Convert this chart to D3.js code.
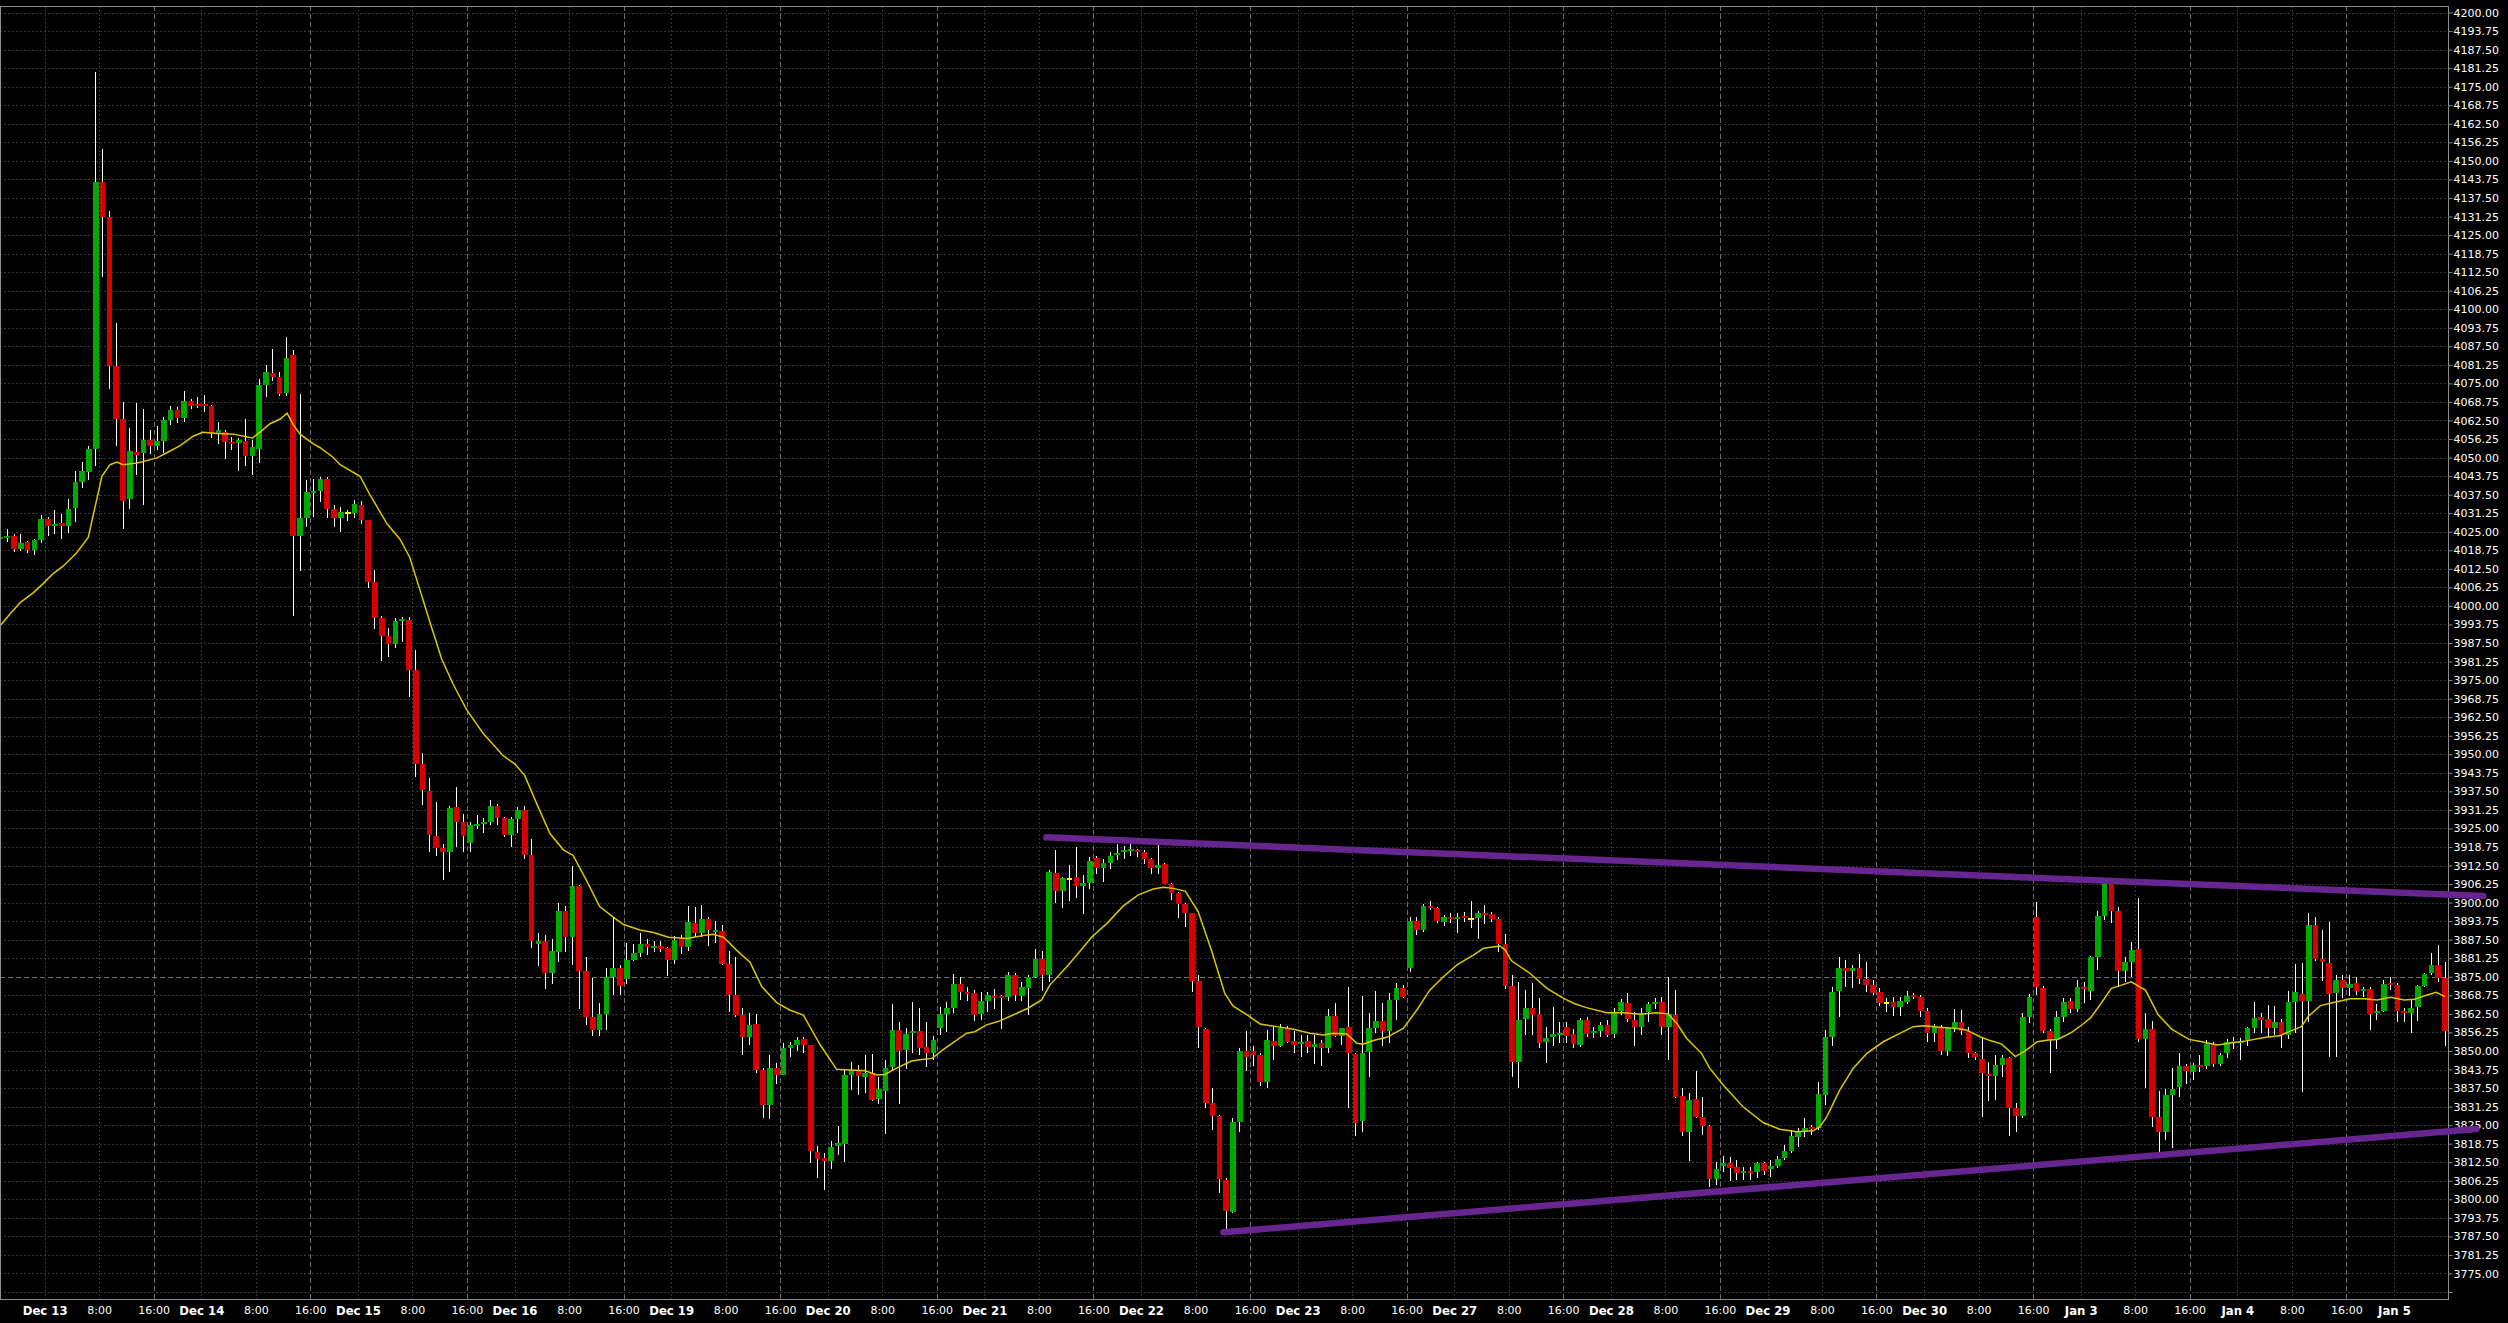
<!DOCTYPE html>
<html><head><meta charset="utf-8">
<script src="https://cdn.jsdelivr.net/npm/d3@7"></script>
<style>
html,body{margin:0;padding:0;background:#000;overflow:hidden}
svg{display:block}
</style></head><body>
<svg id="chart" width="2508" height="1323"></svg>
<script>
// ---------- DATA (hourly candles, index 0 = Dec 12 last session hours) ----------
const opens = [
4022.5,4023,4023.6,4019.3,4021.5,4018.8,4022.1,4029.3,4026.9,4027.8,
4026.9,4033.1,4041.8,4045.3,4053,4143,4131,4081,4063,4036,
4051.8,4051.5,4056,4054,4055.7,4062.7,4065.9,4063.5,4069.2,4068,
4068,4067.4,4058,4058.6,4055.3,4055,4055.5,4050.4,4053,4074.4,
4078.5,4077,4071.6,4084.7,4023.7,4029.5,4037.9,4038.8,4042.7,4032.7,
4029.5,4031.4,4031.4,4034,4029.1,4008.2,3996,3989.7,3987.2,3994.8,
3995.2,3978.5,3946.8,3937.6,3922.3,3918.3,3916.9,3932.1,3927.2,3920.2,
3926,3926.6,3927.2,3932.4,3928.4,3922.9,3928.1,3931.2,3915.9,3886.2,
3886.9,3876.3,3883.5,3897.1,3888.3,3905.7,3876.9,3861.3,3857.1,3862.6,
3874.8,3877.9,3874.2,3880.6,3883,3886.1,3884.6,3885.4,3884.6,3880.6,
3887.7,3885,3893.2,3889.6,3894.4,3890,3890.4,3879.4,3869,3862,
3854.6,3859.1,3843.6,3831.8,3844.2,3842,3851.1,3851.9,3853.9,3852,
3815.9,3814,3813,3818.1,3818.6,3841.9,3843.4,3841.2,3842.5,3833.7,
3836.6,3844.5,3857.1,3850.3,3856,3856.7,3851.2,3849.4,3857.6,3862.5,
3864.6,3872.6,3869.9,3869.4,3862.5,3866.8,3868.6,3868.2,3868.3,3875.6,
3868.6,3871.3,3875,3881,3875.6,3909.9,3904,3908.1,3908.5,3905.7,
3906.5,3915.1,3911.8,3913.5,3916.1,3917,3917.5,3917.7,3917,3914.7,
3911.8,3913,3906.3,3903.3,3899.5,3896.4,3873.6,3857.4,3832.4,3828.2,
3806.5,3795.8,3826.2,3850,3850,3848.6,3839.6,3853.4,3851.7,3857.8,
3853.4,3852.6,3853.4,3851.4,3852.6,3851.1,3861.8,3855.1,3858,3848.9,
3826.4,3849.8,3857.8,3860.1,3856.8,3867.2,3871.1,3878.1,3893.8,3890.8,
3898.9,3898.1,3893.6,3895,3894.5,3895.5,3894.6,3894.9,3896.4,3896,
3894.4,3886,3871.9,3846.4,3860.8,3864.6,3862.5,3853,3854.6,3855.4,
3858.2,3855.7,3852,3860.4,3856,3856.8,3858.8,3855.7,3863.6,3866.1,
3860.4,3858,3863,3865.8,3866.5,3858.2,3862.1,3834.8,3822.8,3833.7,
3827.6,3824.7,3806.8,3811.3,3812.1,3810.8,3808.8,3809.5,3809.3,3812.1,
3810.1,3811.2,3813.8,3816.4,3821.1,3822.8,3824.4,3823.9,3835.2,3854.6,
3870.3,3877.9,3877.1,3877.9,3874.3,3872.2,3869.8,3866.3,3866.5,3864.9,
3866.6,3868.9,3868.3,3863.5,3856,3858,3850.1,3857.6,3859.9,3856.8,
3849.2,3847.3,3842.2,3841.7,3845.3,3847.5,3830.7,3828.2,3861.6,3895.3,
3871.3,3856.7,3854,3861.6,3866.8,3864.1,3871.7,3870.2,3881.8,3895.5,
3906.2,3897.2,3877,3880.1,3884.4,3854,3857.4,3827.6,3822.8,3835.2,
3837.8,3844.9,3843,3845.2,3844.9,3852.3,3845.6,3849.2,3853.4,3852.6,
3853.4,3857.6,3861.3,3860.7,3857.8,3859.9,3855.4,3866.4,3869.2,3867,
3892.4,3881,3879.5,3869.4,3873.9,3871.3,3872.8,3870.2,3870.9,3862.7,
3863.6,3872.8,3872.2,3863.6,3862.7,3864.9,3872,3876.4,3879,3874.7];
const highs = [
4024,4026,4024.3,4024.3,4022,4022.6,4030.8,4030.1,4032.3,4031.1,
4036,4045.6,4048.5,4054,4179.8,4154,4133,4095.3,4068.8,4060,
4068.5,4066.5,4059.2,4060.5,4063.7,4067.5,4067.2,4072.3,4069.7,4070.4,
4071,4067.6,4062,4059.4,4056.8,4056.6,4063,4056,4076.6,4081.1,
4086.5,4078.8,4090.8,4086.3,4071.4,4042.4,4042.7,4043.3,4043.3,4034,
4033.4,4032.3,4035.7,4035.3,4029.1,4012.1,3996.5,3992.5,3995.8,3996.2,
3996.2,3985.1,3950.5,3941.9,3934,3919.6,3932.4,3938.9,3930,3927.2,
3929.4,3928.4,3934.5,3933.3,3928.8,3928.8,3932.1,3932.4,3921.4,3889.6,
3889,3887.7,3900,3898.7,3912.5,3905.8,3881.6,3874.5,3866.3,3877.9,
3895.3,3879.1,3886.5,3885.9,3889.6,3887.7,3887.2,3887.2,3885.2,3888.6,
3889,3899,3898.4,3899.1,3895.1,3893.8,3892.6,3883.7,3881.6,3864.4,
3862.7,3862.5,3844.2,3848.6,3846,3852.6,3853.1,3854.8,3854.8,3852,
3818,3815.5,3819.8,3824.7,3843.6,3846.4,3845.3,3848.6,3849,3841.3,
3847,3865.8,3859.7,3857.6,3866.6,3864.6,3859.7,3855,3864.9,3866.6,
3875.9,3874.8,3871.7,3870.5,3870,3870,3870.8,3869,3876.7,3876.2,
3873.4,3875.6,3884.3,3883.8,3911,3917.7,3908.7,3912.7,3918.6,3909.3,
3915.5,3915.7,3914.6,3917.2,3919.8,3919.1,3919.8,3918,3917.7,3914.9,
3919.4,3913.2,3906.5,3903.7,3899.8,3896.6,3875.6,3857.8,3837.6,3828.4,
3807.1,3827.5,3850.9,3856.8,3851.7,3849.2,3857,3858.2,3859.1,3858.4,
3856.7,3855.4,3855.4,3855.4,3853.7,3864,3866.3,3857.8,3871.7,3849.2,
3868.5,3862.9,3870.2,3866.3,3869.6,3872.8,3872.2,3895.3,3895.3,3899.4,
3900.5,3898.4,3895.8,3896.4,3896.6,3897,3900.5,3897.2,3899.2,3897,
3895,3889.4,3875.6,3873.3,3870.5,3872.8,3867.7,3858.2,3864.9,3859.9,
3859.9,3857.3,3861,3861.5,3858.2,3859.9,3860.4,3864.6,3867.4,3869.4,
3863.2,3864.4,3866.6,3867.7,3868.1,3875,3870.5,3837.4,3835.7,3843.4,
3834.6,3825,3812.7,3814.6,3814.2,3813.3,3810.8,3811,3812.7,3812.7,
3813.3,3814.6,3818.3,3823.4,3823.9,3827.3,3825,3839.6,3857,3871.5,
3881.6,3880.7,3879,3882.7,3880.1,3873.9,3871.1,3867.7,3868.1,3868.3,
3870.3,3869.4,3868.9,3864.4,3859.1,3858.8,3858.2,3864,3863.8,3858.2,
3849.8,3854.3,3846.4,3848.6,3848.6,3848.1,3832.4,3862.7,3869.1,3900.3,
3872,3857.3,3863.5,3868,3867.7,3873.9,3873.3,3882,3897.2,3907.6,
3906.2,3898.6,3881.8,3886.8,3901.5,3862.7,3860.1,3836.6,3837.1,3844.2,
3849.2,3845.6,3845.8,3848.6,3853.7,3853.1,3849.2,3853.9,3854.8,3854.3,
3858.2,3866.4,3862.7,3865.5,3865.2,3860.7,3870.3,3879.2,3879.7,3896.6,
3895,3890.8,3893.6,3875.6,3875.6,3875.6,3875,3871.7,3871.7,3865.8,
3873.9,3874.8,3872.8,3864.4,3867.4,3872.2,3876.4,3882.9,3885.7,3880.1];
const lows = [
4021.5,4021.7,4018.2,4018.4,4017.9,4017.3,4021.1,4023.7,4024.3,4022.4,
4024.7,4028.2,4039.8,4042.4,4047.3,4111,4073,4053.8,4026,4032.7,
4044.1,4034,4051.2,4052.7,4051.4,4061.1,4061.8,4062,4066.3,4066.7,
4065.5,4056.6,4054.7,4049.5,4052.7,4045.6,4047.3,4044.1,4048.2,4070.4,
4075.9,4070.8,4070.8,3996.6,4011.7,4026.7,4030.1,4034.9,4029.5,4026.7,
4025,4028.5,4029.5,4027.6,4005.9,3992.1,3981.5,3982.7,3985.7,3988,
3969.2,3942.2,3932.8,3916.9,3915.6,3907.7,3910.4,3918.7,3916.9,3916.9,
3924.7,3923.3,3926,3926,3922,3918.7,3923.3,3914.7,3884.6,3878.5,
3870.8,3872.6,3880.1,3883.5,3878.9,3864.2,3858.9,3855.2,3855.2,3857.1,
3868.7,3868.7,3872.6,3880.4,3881.6,3882.2,3883.5,3883.2,3875.4,3879.4,
3882.8,3883.8,3888.3,3888.3,3885.5,3886.5,3878.9,3863.2,3861.3,3848.6,
3852,3842.5,3827.3,3827,3838.9,3841.9,3847.9,3850.1,3849.2,3812.3,
3807.1,3803.1,3810.1,3815,3812.7,3836.8,3835.2,3835.7,3833.3,3832.1,
3822,3843.6,3832.1,3843.8,3849.2,3848.6,3844.7,3847,3855.4,3856.4,
3862.7,3867.2,3867,3860.2,3860.4,3863.2,3864,3857.4,3867,3867,
3867,3862.1,3874.5,3870.3,3873.3,3900,3898.3,3900.5,3901.7,3896.2,
3904.6,3909.6,3907,3911.3,3914.4,3914.6,3915.7,3915.3,3913,3909.6,
3909.6,3906.2,3900.9,3894.7,3891.9,3870,3850.9,3830.7,3823.4,3802,
3789.5,3795.5,3822.8,3843.4,3844.9,3838.2,3837.6,3847,3851.4,3852.6,
3849.2,3847.9,3849.2,3845.6,3844.9,3849.2,3854.8,3852,3830.7,3821.3,
3822.8,3841.1,3856,3851.7,3852.8,3860.4,3867.7,3876.5,3889.1,3890.2,
3897.5,3893.2,3892.1,3893,3889.9,3893.6,3891.3,3887.6,3892.8,3893.6,
3883.5,3871,3841.1,3837.4,3855.4,3855.4,3850.9,3845.8,3851.8,3852.8,
3852.8,3850.9,3851.2,3854.8,3854.3,3854.6,3854.6,3854.3,3862.1,3859.9,
3851.8,3855.4,3859.9,3864,3855.4,3847,3834,3821.3,3813,3827.3,
3821.7,3804.3,3804.8,3809.3,3806.3,3806.5,3806.5,3806.5,3807.1,3808.2,
3807.6,3810.4,3813.3,3815.7,3817.5,3821.1,3821.7,3823.4,3831.8,3851.7,
3861.3,3871.5,3871.1,3872.6,3870,3868.9,3865.2,3863.2,3861.8,3861.8,
3865.8,3867.4,3861.5,3853.1,3853.1,3848.6,3848.3,3856.5,3855.4,3847.5,
3847,3827.6,3833.2,3833.5,3841.1,3821.4,3822.8,3827.3,3859.3,3868.9,
3856,3842.7,3850.6,3859.9,3862.7,3863.2,3866,3867.2,3877.3,3894.1,
3893.2,3871.7,3873.3,3875,3853.1,3837.4,3824.5,3816,3820,3817.2,
3834.6,3838.9,3840.2,3843,3843.8,3844.7,3844.9,3847.5,3850.6,3847,
3851.7,3856.2,3856.2,3854.8,3855.4,3850.9,3853.9,3856,3836.3,3859.9,
3880.4,3873.7,3847.9,3848.1,3867.7,3868.5,3868.9,3868.3,3857.1,3860.4,
3863.2,3870.5,3859.9,3859.9,3856.2,3860.1,3871.7,3875.6,3873.3,3851.7];
const closes = [
4023,4023.5,4019.3,4021.1,4018.8,4022.1,4029.3,4026.9,4027.5,4026.9,
4032.6,4041.8,4045.6,4053,4143,4131,4081,4063,4035.3,4052.3,
4051,4056,4053.8,4055.7,4062.7,4065.9,4063.3,4069.2,4067.5,4067.5,
4067.3,4057.9,4059.2,4055.3,4054.7,4056,4050.4,4053.6,4074.4,4078.8,
4077,4071.4,4083.7,4023.7,4029.5,4038.5,4038.6,4042.7,4032.7,4029.5,
4031.8,4031.4,4034.4,4029.1,4008.2,3996,3989.7,3987.2,3994.9,3995.6,
3978.5,3946.8,3938,3922.9,3918.3,3916.9,3931.8,3927.2,3922.4,3926,
3926.6,3927.2,3932.4,3928.4,3922.9,3928.1,3931.2,3915.9,3886.9,3886.9,
3876.3,3883.7,3897.1,3888.3,3905.7,3876.9,3861.3,3857.1,3862.6,3874.8,
3877.9,3872,3880.6,3883,3886.1,3885.2,3885.4,3884.2,3880.6,3887.5,
3885,3893.5,3889.6,3894.4,3890.8,3890.6,3879.4,3869,3862,3854.6,
3858.8,3843.6,3831.8,3844.2,3841.9,3850.9,3851.9,3853.7,3852,3816.4,
3813.6,3813,3817.7,3819,3841.9,3843.4,3841.6,3842.7,3833.5,3837.1,
3844.2,3857.1,3850.1,3855.7,3856.7,3851.1,3849.4,3853.7,3862.5,3864.5,
3872.6,3870,3869.2,3862.1,3866.8,3868.9,3867.9,3867.9,3875.6,3868.9,
3871.7,3875,3881,3875.6,3910.4,3904,3908.4,3908.1,3905.7,3906.7,
3914.1,3911.8,3913.5,3915.7,3916.8,3917.7,3918.2,3917,3914.7,3911.8,
3912.7,3906.3,3903.3,3899.5,3896.4,3873.7,3858,3832.6,3828.2,3806.7,
3796.2,3826.2,3850,3847.9,3848.6,3839.6,3853.7,3851.7,3857.8,3853.1,
3852,3853.1,3851.2,3852.3,3850.9,3861.8,3855.1,3857.6,3849.2,3825.8,
3849.2,3857.6,3860.1,3856.8,3867.2,3871.1,3868.3,3893.8,3890.8,3898.9,
3898.3,3893.8,3895,3894.5,3895.3,3894.9,3894.6,3896.4,3895.7,3894.5,
3886,3871.9,3846.4,3860.4,3864.6,3862.1,3852.8,3854.3,3855.7,3856.2,
3855,3852.3,3860.4,3855.7,3856.7,3858.8,3855.4,3863.2,3866.5,3860.7,
3858,3862.7,3865.8,3866.5,3858.2,3862.4,3834.6,3822.8,3833.5,3827.6,
3824.7,3806.8,3810.2,3812.1,3810.4,3808.8,3809.3,3809,3812.1,3809.6,
3811.2,3813.6,3816.4,3821.3,3822.8,3823.9,3823.7,3835.4,3854.6,3869.8,
3877.9,3877.1,3877.9,3874.3,3872.2,3869.4,3866.3,3866.3,3864.9,3867,
3868.5,3868.3,3863.6,3856,3858.2,3850.1,3857.6,3859.9,3856.8,3849.2,
3848.1,3842.5,3841.7,3845.3,3847.5,3830.7,3828.2,3861.6,3868.3,3871.7,
3856.8,3853.7,3861.6,3866.4,3864.1,3871.7,3870.9,3881.8,3895.5,3906.2,
3897.2,3877,3880.1,3884,3854,3857.4,3827.6,3822.8,3835.2,3837.1,
3844.9,3843.3,3845.3,3844.5,3852.3,3845.6,3848.6,3853.1,3852.6,3853.4,
3857.6,3861,3860.4,3857.8,3859.9,3855.4,3866.4,3869.8,3867,3892.4,
3880.9,3880.1,3869.2,3873.9,3871.3,3872.6,3870.2,3870.9,3862.4,3863.6,
3872.6,3872.2,3863.6,3862.7,3864.4,3872,3876,3879,3874.5,3856.8];

// moving average: candle position -> value
const maAt = [0,1.4,2.9,4.8,6.3,7.7,9.2,11.2,12.9,13.9,14.9,16.1,17.1,18.0,20.1,23.0,24.5,26.4,28.3,29.7,
31.8,34.2,37.0,38.1,39.6,41.1,42.1,43.0,44.0,45.9,46.9,48.8,49.9,52.8,54.3,56.8,58.7,
60.1,61.6,63.1,64.8,66.5,68.5,70.9,73.8,75.6,77.0,78.8,80.7,82.7,84.1,86.1,88.0,90.0,91.5,93.9,95.9,
98.1,100.8,103.2,104.7,106.2,108.1,110.1,
111.8,114.0,115.9,117.9,120.4,122.8,124.8,127.0,128.7,129.9,131.6,133.8,135.0,136.8,138.7,141.9,143.1,144.8,146.5,
148.7,150.9,152.9,154.1,156.6,158.5,160.3,162.5,164.9,167.1,169.3,170.8,172.2,174.0,175.9,177.9,179.8,181.0,183.3,185.0,
187.4,189.9,192.3,194.3,195.7,197.7,199.2,200.1,201.6,203.6,206.0,208.0,209.9,211.9,213.9,216.3,217.8,220.2,
221.0,221.9,224.6,227.1,229.5,231.0,232.9,235.9,238.3,240.8,243.2,244.9,246.2,247.6,249.8,251.0,253.0,255.9,258.9,261.3,
263.8,266.2,267.2,268.2,270.1,272.1,274.1,276.5,279.0,280.9,282.4,284.8,287.3,288.7,290.7,292.2,
293.9,295.9,297.4,299.1,300.8,302.1,304.1,305.8,307.0,308.5,310.0,311.5,312.9,315.0,316.9,318.9,321.4,323.3,325.6,327.3,
329.8,332.7,334.7,336.7,337.9,338.9,340.7,342.6,345.1,347.1,349.0,351.0,353.0,354.5,356.0,357.7,359.0];
const maValues = [3993.4,3997.3,4001.1,4004.4,4007.6,4010.8,4013.4,4017.9,4023.1,4033.4,4043.7,4047.6,4048.5,4047.6,4048.2,4049.9,4051.7,4054,4057.2,4058.5,
4058.1,4057.9,4056.6,4058.5,4061.4,4063,4065,4061.1,4057.9,4054.7,4053.4,4050.2,4047.6,4043.7,4037.3,4027.6,4022.4,
4016.4,4005.4,3994.3,3982.1,3973.5,3964.9,3957,3949.6,3946.6,3942.8,3933.1,3923.3,3917.7,3915.9,3907.3,3898.7,3895.1,3892.6,3890.8,3889.9,
3888.3,3887.9,3888.9,3889.3,3888.3,3884,3879.8,
3871.7,3866.3,3863.8,3862.1,3852,3843.8,3843.6,3843.3,3841.9,3842.1,3844.2,3846.6,3847,3847.5,3850.9,3856,3856.5,3858.8,3859.9,
3862.1,3864.4,3867.2,3872.2,3878.4,3883.5,3888.5,3893,3898.9,3902.6,3904.6,3905.2,3904.8,3903.9,3896.9,3883.5,3869.4,3865.2,3861.8,3859.1,
3858.2,3857.3,3856,3855.4,3856,3855.7,3852.6,3852.3,3853.5,3854.6,3857.6,3863.8,3870.5,3875,3879,3882.3,3884.6,3885.4,
3884,3880.4,3876.2,3871.1,3867.8,3866.1,3864.6,3862.9,3862.9,3862.4,3862.9,3862.5,3859.3,3854.3,3849.2,3844.2,3838.5,3831.2,3825.8,3823.6,
3822.8,3823.1,3824.5,3827.8,3836.8,3844.2,3849.2,3853.1,3856,3858.2,3858.5,3858,3857.6,3857.1,3854.8,3853.5,
3852.3,3848.1,3850.1,3853.1,3853.7,3853.9,3856.2,3859,3861.3,3866.1,3871.1,3872.2,3873.3,3870.5,3862.1,3857.3,3853.9,3853.1,3852,3852.6,
3853.4,3854.6,3855.1,3857.1,3858.2,3861.6,3865.3,3866.3,3867.6,3867.6,3867.2,3868.1,3867.2,3867.4,3868.6,3869.8,3868.3];

// drawn trendlines: [candle position, price] at both ends
const trendUpperAt = [153.6, 364.6];
const trendUpperPrice = [3922.0, 3902.2];
const trendLowerAt = [179.6, 363.6];
const trendLowerPrice = [3788.9, 3823.7];

// time axis
const dayLabels = ["Dec 13","Dec 14","Dec 15","Dec 16","Dec 19","Dec 20","Dec 21","Dec 22","Dec 23","Dec 27","Dec 28","Dec 29","Dec 30","Jan 3","Jan 4","Jan 5"];
const dayStartIndex = [7,30,53,76,99,122,145,168,191,214,237,260,283,306,329,352];
const hourLabels = ["8:00","16:00"];
const hourOffsets = [8,16];

// price axis
const priceStep = 6.25, priceTickMin = 3768.75, priceTickMax = 4200;
const highlightedPrice = 3875;

// ---------- CHART ----------
const W = 2508, H = 1323;
const plot = {left:0, top:6, right:2449, bottom:1299};
const svg = d3.select("#chart");
svg.append("rect").attr("width",W).attr("height",H).attr("fill","#000");

const x = d3.scaleLinear().domain([-0.063, 359.58]).range([plot.left, plot.right]);
const y = d3.scaleLinear().domain([3766.4, 4202.2]).range([plot.bottom, plot.top]);

svg.append("defs").append("clipPath").attr("id","clip")
  .append("rect").attr("x",plot.left).attr("y",plot.top)
  .attr("width",plot.right-plot.left).attr("height",plot.bottom-plot.top);

// ticks
const yTicks = d3.range(priceTickMin, priceTickMax + 0.01, priceStep);
const xTicks = [];
dayLabels.forEach((lab, d) => {
  const s = dayStartIndex[d];
  xTicks.push({pos: s - 0.5, text: lab, date: true, bright: false});
  hourOffsets.forEach((o, k) => {
    if (s + o <= 359) xTicks.push({pos: s + o - 0.5, text: hourLabels[k], date: false, bright: o === 16});
  });
});

// grid
const grid = svg.append("g").attr("shape-rendering","crispEdges");
grid.selectAll("line.h").data(yTicks).join("line").attr("class","h")
  .attr("x1",plot.left).attr("x2",plot.right)
  .attr("y1",d=>Math.round(y(d))+0.5).attr("y2",d=>Math.round(y(d))+0.5)
  .attr("stroke",d=>d===highlightedPrice?"#6e6e6e":"#363636")
  .attr("stroke-dasharray",d=>d===highlightedPrice?"5,3":"2,2");
grid.selectAll("line.v").data(xTicks).join("line").attr("class","v")
  .attr("y1",plot.top).attr("y2",plot.bottom)
  .attr("x1",d=>Math.round(x(d.pos))+0.5).attr("x2",d=>Math.round(x(d.pos))+0.5)
  .attr("stroke",d=>d.bright?"#6e6e6e":"#363636")
  .attr("stroke-dasharray",d=>d.bright?"5,3":"2,2");

// candles
const idx = d3.range(opens.length);
const cg = svg.append("g").attr("clip-path","url(#clip)").attr("shape-rendering","crispEdges");
cg.selectAll("rect.wick").data(idx).join("rect").attr("class","wick")
  .attr("x",i=>Math.round(x(i)-0.5)).attr("width",1)
  .attr("y",i=>y(highs[i])).attr("height",i=>Math.max(1,y(lows[i])-y(highs[i])))
  .attr("fill","#ffffff");
cg.selectAll("rect.body").data(idx).join("rect").attr("class","body")
  .attr("x",i=>Math.round(x(i)-2.8))
  .attr("width",i=>Math.round(x(i)+2.8)-Math.round(x(i)-2.8))
  .attr("y",i=>{const a=y(opens[i]),b=y(closes[i]);return Math.abs(a-b)<2?(a+b)/2-1:Math.min(a,b);})
  .attr("height",i=>Math.max(2,Math.abs(y(opens[i])-y(closes[i]))))
  .attr("fill",i=>closes[i]>opens[i]?"#00a800":(closes[i]<opens[i]?"#d60000":"#ffff00"));

// moving average
const maPts = maAt.map((p,k)=>[p,maValues[k]]);
svg.append("path").attr("clip-path","url(#clip)")
  .attr("d", d3.line().x(d=>x(d[0])).y(d=>y(d[1]))(maPts))
  .attr("fill","none").attr("stroke","#d9c800").attr("stroke-width",1.5);

// frame
svg.append("rect").attr("x",plot.left+0.5).attr("y",plot.top+0.5)
  .attr("width",plot.right-plot.left-1).attr("height",plot.bottom-plot.top)
  .attr("fill","none").attr("stroke","#8c8c8c").attr("stroke-width",1);

// right price axis
const yAxis = d3.axisRight(y).tickValues(yTicks).tickSize(4).tickPadding(1)
  .tickFormat(d=> d < priceTickMin + 1 ? "" : d.toFixed(2));
const ya = svg.append("g").attr("transform",`translate(${plot.right-0.5},0)`).call(yAxis);
ya.select(".domain").remove();
ya.selectAll(".tick line").attr("stroke","#8c8c8c");
ya.selectAll("text").attr("fill","#ffffff")
  .style("font-family","'DejaVu Sans', Verdana, sans-serif").style("font-size","11px");

// bottom time axis
const xAxis = d3.axisBottom(x).tickValues(xTicks.map(t=>t.pos)).tickSize(0).tickPadding(7)
  .tickFormat((d,k)=>xTicks[k].text);
const xa = svg.append("g").attr("transform",`translate(0,${plot.bottom})`).call(xAxis);
xa.select(".domain").remove();
xa.selectAll("text").each(function(d,k){
  const t = d3.select(this).attr("fill","#ffffff");
  if (xTicks[k].date) {
    t.style("font-family","'DejaVu Sans Condensed','DejaVu Sans',sans-serif").style("font-weight","bold").style("font-size","13px");
  } else {
    t.style("font-family","'DejaVu Sans',sans-serif").style("font-size","11px");
  }
});

// trendlines (drawn over everything, extend past the frame)
const tl = d3.line().x(d=>x(d[0])).y(d=>y(d[1]));
[[trendUpperAt,trendUpperPrice],[trendLowerAt,trendLowerPrice]].forEach(([at,pr])=>{
  svg.append("path").attr("d", tl(at.map((p,k)=>[p,pr[k]])))
    .attr("fill","none").attr("stroke","#66258f").attr("stroke-width",6.5)
    .attr("stroke-linecap","round");
});
</script>
</body></html>
